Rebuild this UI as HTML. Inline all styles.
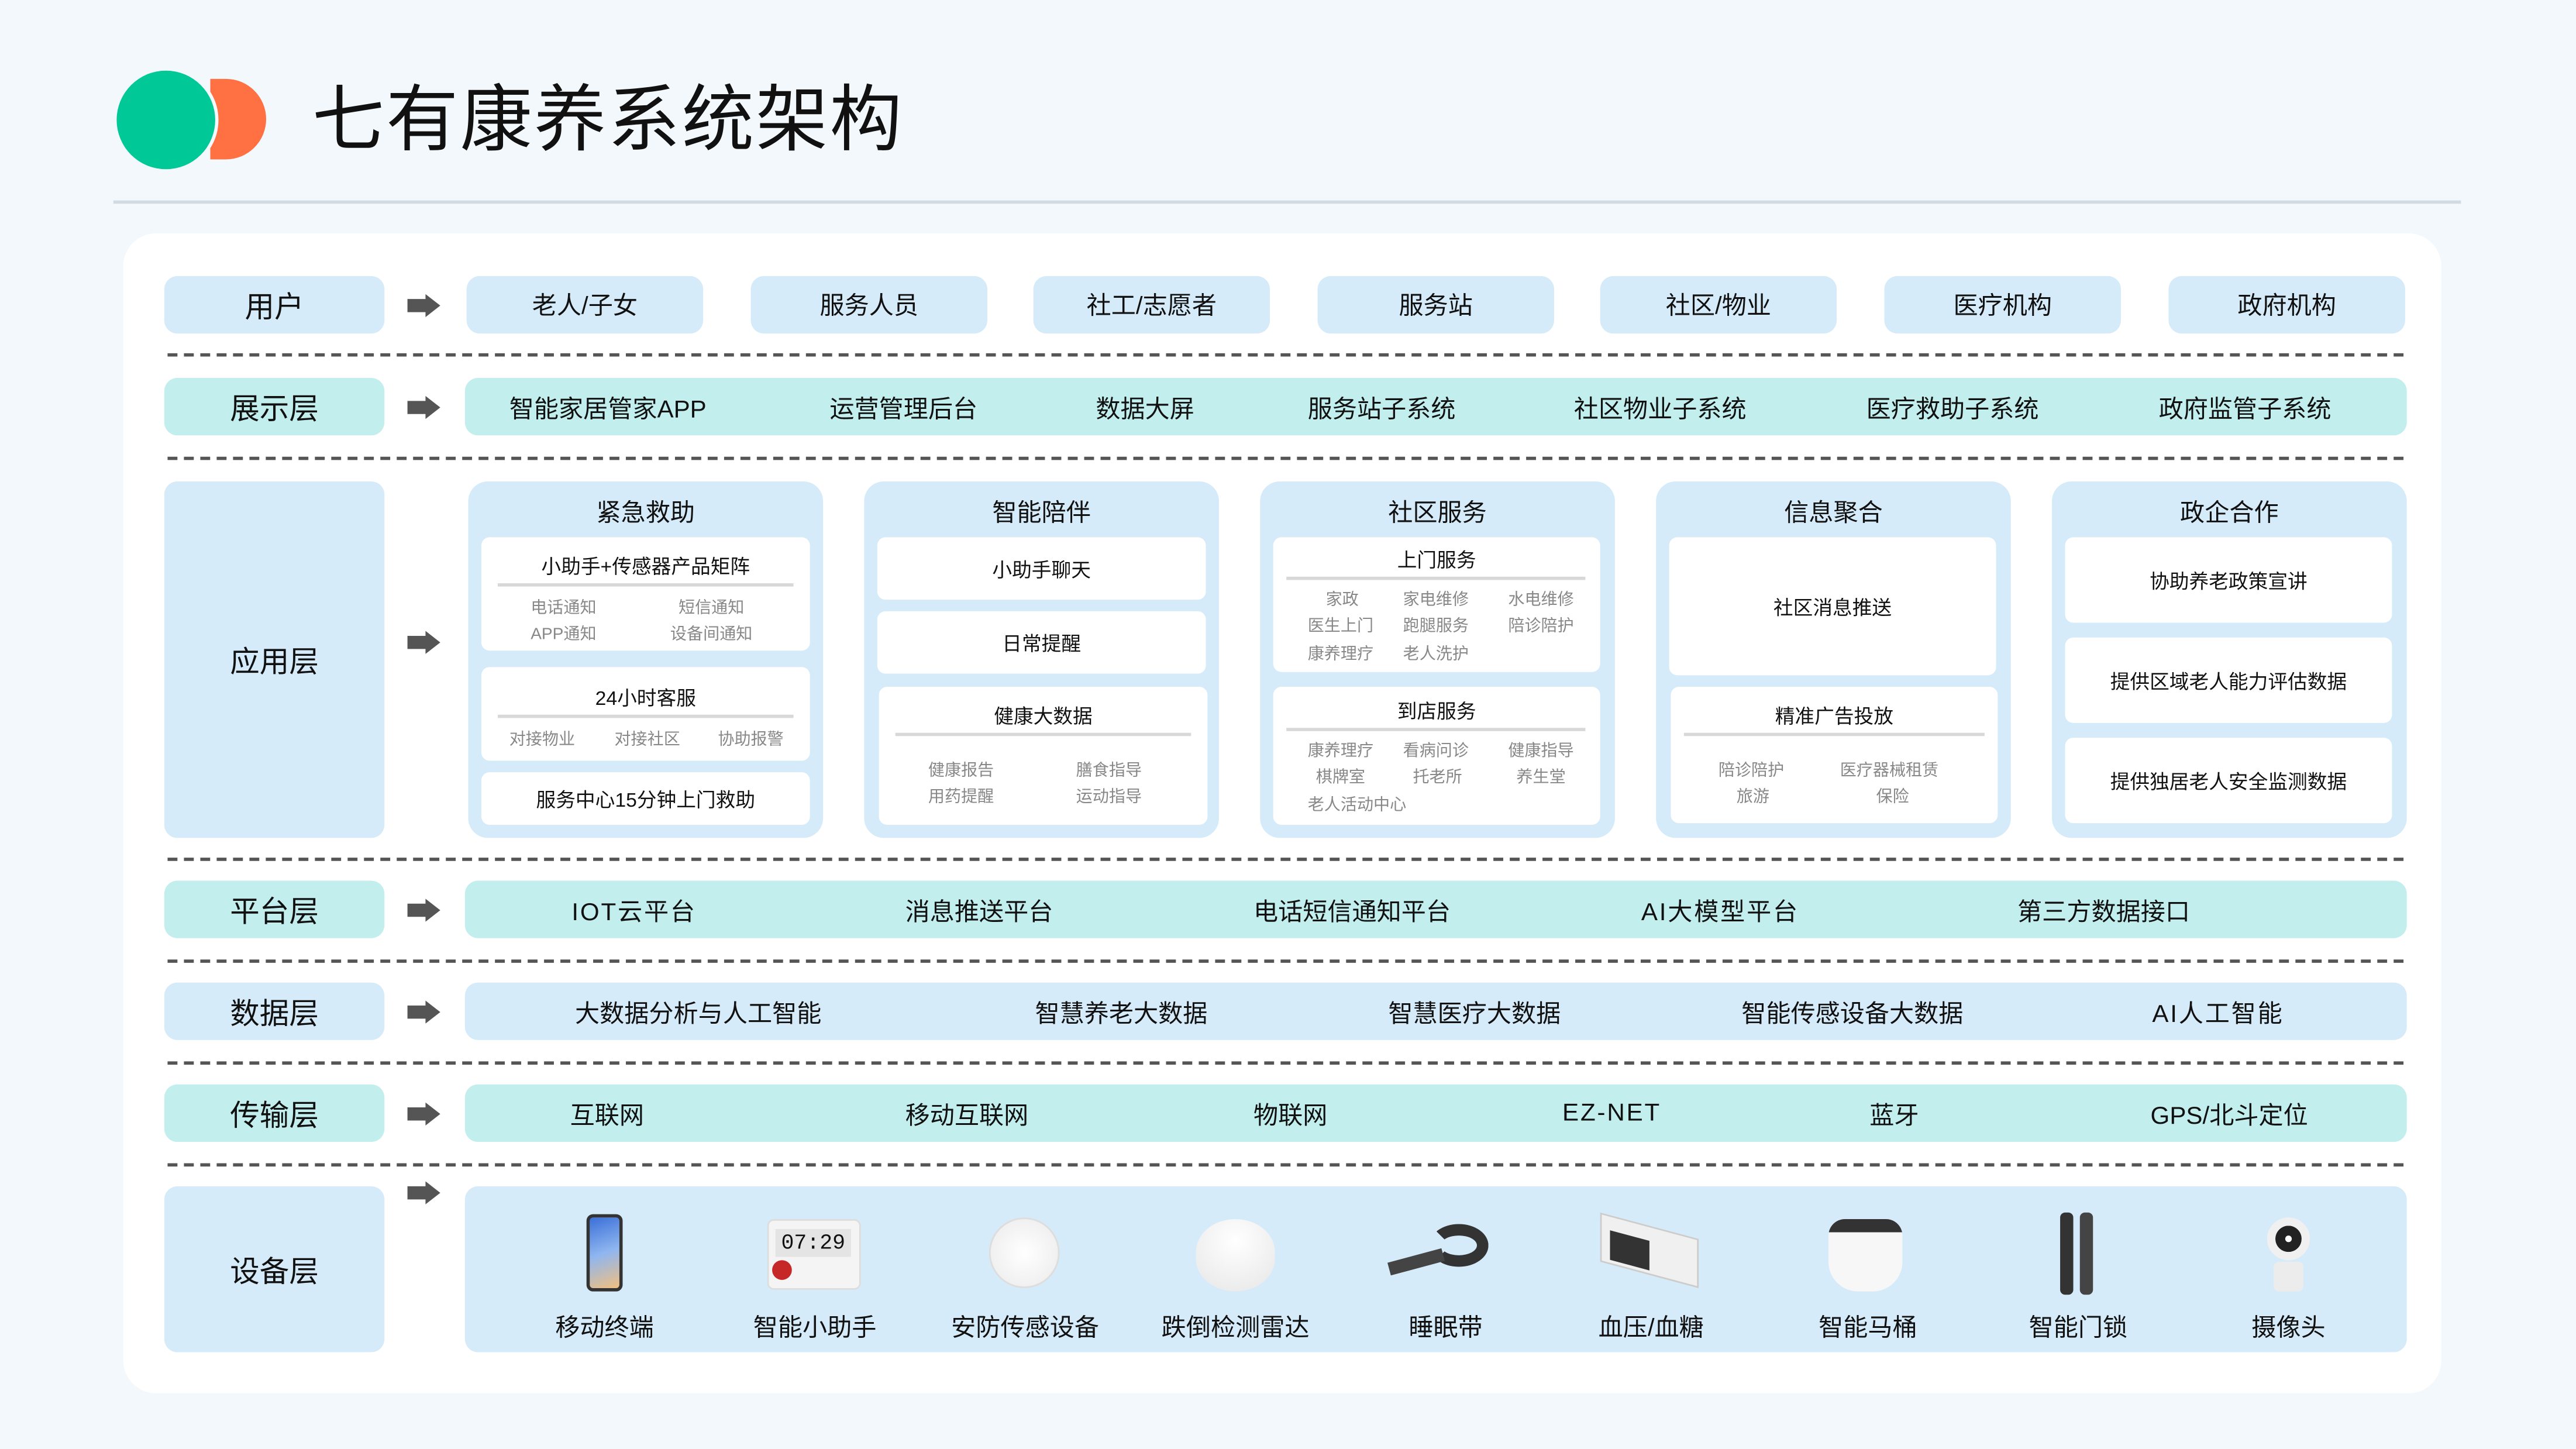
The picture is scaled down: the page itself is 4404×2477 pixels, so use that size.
<!DOCTYPE html>
<html><head><meta charset="utf-8"><style>
html,body{margin:0;padding:0;width:4404px;height:2477px;overflow:hidden;background:#f3f8fc}
#s{position:absolute;left:0;top:0;width:1568px;height:882px;transform:scale(2.80867);transform-origin:0 0;font-family:"Liberation Sans","Noto Sans CJK SC",sans-serif;color:#111}
.a{position:absolute;box-sizing:border-box}
.c{display:flex;align-items:center;justify-content:center;text-align:center}
.b{background:#d6ebf9;border-radius:8px}
.t{background:#c2eeee;border-radius:8px}
.w{background:#fff;border-radius:5px}
.lab{font-size:18px}
.it{font-size:15px}
.dash{position:absolute;left:102px;width:1361px;height:0;border-top:2px dashed #555}
.arr{position:absolute;width:20px;height:14px}
.g{color:#888;font-size:10px}
.hr{position:absolute;height:2px;background:#d8d8d8}
.dl{position:absolute;top:797px;width:120px;text-align:center;font-size:15px}
</style></head><body><div id="s">
<div class="a" style="left:128px;top:48px;width:34px;height:49px;border-radius:0 25px 25px 0;background:#ff7043"></div>
<div class="a" style="left:69px;top:41px;width:64px;height:64px;border-radius:50%;background:#f3f8fc"></div>
<div class="a" style="left:71px;top:43px;width:60px;height:60px;border-radius:50%;background:#00c896"></div>
<div class="a" style="left:190px;top:46px;font-size:44px;line-height:56px;letter-spacing:1px">七有康养系统架构</div>
<div class="a" style="left:69px;top:122px;width:1429px;height:2px;background:#d3dbe2"></div>
<div class="a" style="left:75px;top:142px;width:1411px;height:706px;background:#fff;border-radius:20px"></div>

<div class="a c b lab" style="left:100px;top:168px;width:134px;height:35px">用户</div>
<div class="a c t lab" style="left:100px;top:230px;width:134px;height:35px">展示层</div>
<div class="a c b lab" style="left:100px;top:293px;width:134px;height:217px">应用层</div>
<div class="a c t lab" style="left:100px;top:536px;width:134px;height:35px">平台层</div>
<div class="a c b lab" style="left:100px;top:598px;width:134px;height:35px">数据层</div>
<div class="a c t lab" style="left:100px;top:660px;width:134px;height:35px">传输层</div>
<div class="a c b lab" style="left:100px;top:722px;width:134px;height:101px">设备层</div>

<svg class="arr" style="left:248px;top:179px" viewBox="0 0 20 14"><path d="M0 3h11V0l9 7-9 7v-3H0z" fill="#555"/></svg>
<svg class="arr" style="left:248px;top:241px" viewBox="0 0 20 14"><path d="M0 3h11V0l9 7-9 7v-3H0z" fill="#555"/></svg>
<svg class="arr" style="left:248px;top:384px" viewBox="0 0 20 14"><path d="M0 3h11V0l9 7-9 7v-3H0z" fill="#555"/></svg>
<svg class="arr" style="left:248px;top:547px" viewBox="0 0 20 14"><path d="M0 3h11V0l9 7-9 7v-3H0z" fill="#555"/></svg>
<svg class="arr" style="left:248px;top:609px" viewBox="0 0 20 14"><path d="M0 3h11V0l9 7-9 7v-3H0z" fill="#555"/></svg>
<svg class="arr" style="left:248px;top:671px" viewBox="0 0 20 14"><path d="M0 3h11V0l9 7-9 7v-3H0z" fill="#555"/></svg>
<svg class="arr" style="left:248px;top:719px" viewBox="0 0 20 14"><path d="M0 3h11V0l9 7-9 7v-3H0z" fill="#555"/></svg>

<div class="dash" style="top:215px"></div>
<div class="dash" style="top:278px"></div>
<div class="dash" style="top:522px"></div>
<div class="dash" style="top:584px"></div>
<div class="dash" style="top:646px"></div>
<div class="dash" style="top:708px"></div>

<div class="a c b it" style="left:284px;top:168px;width:144px;height:35px">老人/子女</div>
<div class="a c b it" style="left:457px;top:168px;width:144px;height:35px">服务人员</div>
<div class="a c b it" style="left:629px;top:168px;width:144px;height:35px">社工/志愿者</div>
<div class="a c b it" style="left:802px;top:168px;width:144px;height:35px">服务站</div>
<div class="a c b it" style="left:974px;top:168px;width:144px;height:35px">社区/物业</div>
<div class="a c b it" style="left:1147px;top:168px;width:144px;height:35px">医疗机构</div>
<div class="a c b it" style="left:1320px;top:168px;width:144px;height:35px">政府机构</div>

<div class="a t" style="left:283px;top:230px;width:1182px;height:35px"></div>
<div class="a it" style="top:238px;left:310px">智能家居管家APP</div>
<div class="a it" style="top:238px;left:505px">运营管理后台</div>
<div class="a it" style="top:238px;left:667px">数据大屏</div>
<div class="a it" style="top:238px;left:796px">服务站子系统</div>
<div class="a it" style="top:238px;left:958px">社区物业子系统</div>
<div class="a it" style="top:238px;left:1136px">医疗救助子系统</div>
<div class="a it" style="top:238px;left:1314px">政府监管子系统</div>

<div class="a b" style="left:285px;top:293px;width:216px;height:217px;border-radius:12px"></div>
<div class="a b" style="left:526px;top:293px;width:216px;height:217px;border-radius:12px"></div>
<div class="a b" style="left:767px;top:293px;width:216px;height:217px;border-radius:12px"></div>
<div class="a b" style="left:1008px;top:293px;width:216px;height:217px;border-radius:12px"></div>
<div class="a b" style="left:1249px;top:293px;width:216px;height:217px;border-radius:12px"></div>
<div class="a it" style="left:285px;top:301px;width:216px;text-align:center">紧急救助</div>
<div class="a it" style="left:526px;top:301px;width:216px;text-align:center">智能陪伴</div>
<div class="a it" style="left:767px;top:301px;width:216px;text-align:center">社区服务</div>
<div class="a it" style="left:1008px;top:301px;width:216px;text-align:center">信息聚合</div>
<div class="a it" style="left:1249px;top:301px;width:216px;text-align:center">政企合作</div>

<div class="a w" style="left:293px;top:327px;width:200px;height:69px"></div>
<div class="a" style="left:293px;top:336px;width:200px;text-align:center;font-size:12px">小助手+传感器产品矩阵</div>
<div class="hr" style="left:303px;top:355px;width:180px"></div>
<div class="a g" style="left:323px;top:361px">电话通知</div><div class="a g" style="left:413px;top:361px">短信通知</div>
<div class="a g" style="left:323px;top:377px">APP通知</div><div class="a g" style="left:408px;top:377px">设备间通知</div>
<div class="a w" style="left:293px;top:406px;width:200px;height:57px"></div>
<div class="a" style="left:293px;top:416px;width:200px;text-align:center;font-size:12px">24小时客服</div>
<div class="hr" style="left:303px;top:435px;width:180px"></div>
<div class="a g" style="left:310px;top:441px">对接物业</div><div class="a g" style="left:374px;top:441px">对接社区</div><div class="a g" style="left:437px;top:441px">协助报警</div>
<div class="a w c" style="left:293px;top:470px;width:200px;height:32px;font-size:12px">服务中心15分钟上门救助</div>

<div class="a w c" style="left:534px;top:327px;width:200px;height:38px;font-size:12px">小助手聊天</div>
<div class="a w c" style="left:534px;top:372px;width:200px;height:38px;font-size:12px">日常提醒</div>
<div class="a w" style="left:535px;top:418px;width:200px;height:84px"></div>
<div class="a" style="left:535px;top:427px;width:200px;text-align:center;font-size:12px">健康大数据</div>
<div class="hr" style="left:545px;top:446px;width:180px"></div>
<div class="a g" style="left:565px;top:460px">健康报告</div><div class="a g" style="left:655px;top:460px">膳食指导</div>
<div class="a g" style="left:565px;top:476px">用药提醒</div><div class="a g" style="left:655px;top:476px">运动指导</div>

<div class="a w" style="left:775px;top:327px;width:199px;height:82px"></div>
<div class="a" style="left:775px;top:332px;width:199px;text-align:center;font-size:12px">上门服务</div>
<div class="hr" style="left:783px;top:351px;width:182px"></div>
<div class="a g" style="left:807px;top:356px">家政</div><div class="a g" style="left:854px;top:356px">家电维修</div><div class="a g" style="left:918px;top:356px">水电维修</div>
<div class="a g" style="left:796px;top:372px">医生上门</div><div class="a g" style="left:854px;top:372px">跑腿服务</div><div class="a g" style="left:918px;top:372px">陪诊陪护</div>
<div class="a g" style="left:796px;top:389px">康养理疗</div><div class="a g" style="left:854px;top:389px">老人洗护</div>
<div class="a w" style="left:775px;top:418px;width:199px;height:84px"></div>
<div class="a" style="left:775px;top:424px;width:199px;text-align:center;font-size:12px">到店服务</div>
<div class="hr" style="left:783px;top:443px;width:182px"></div>
<div class="a g" style="left:796px;top:448px">康养理疗</div><div class="a g" style="left:854px;top:448px">看病问诊</div><div class="a g" style="left:918px;top:448px">健康指导</div>
<div class="a g" style="left:801px;top:464px">棋牌室</div><div class="a g" style="left:860px;top:464px">托老所</div><div class="a g" style="left:923px;top:464px">养生堂</div>
<div class="a g" style="left:796px;top:481px">老人活动中心</div>

<div class="a w c" style="left:1016px;top:327px;width:199px;height:84px;font-size:12px">社区消息推送</div>
<div class="a w" style="left:1017px;top:418px;width:199px;height:83px"></div>
<div class="a" style="left:1017px;top:427px;width:199px;text-align:center;font-size:12px">精准广告投放</div>
<div class="hr" style="left:1025px;top:446px;width:183px"></div>
<div class="a g" style="left:1046px;top:460px">陪诊陪护</div><div class="a g" style="left:1120px;top:460px">医疗器械租赁</div>
<div class="a g" style="left:1057px;top:476px">旅游</div><div class="a g" style="left:1142px;top:476px">保险</div>

<div class="a w c" style="left:1257px;top:327px;width:199px;height:52px;font-size:12px">协助养老政策宣讲</div>
<div class="a w c" style="left:1257px;top:388px;width:199px;height:52px;font-size:12px">提供区域老人能力评估数据</div>
<div class="a w c" style="left:1257px;top:449px;width:199px;height:52px;font-size:12px">提供独居老人安全监测数据</div>

<div class="a t" style="left:283px;top:536px;width:1182px;height:35px"></div>
<div class="a it" style="top:544px;left:348px;letter-spacing:1px">IOT云平台</div>
<div class="a it" style="top:544px;left:551px">消息推送平台</div>
<div class="a it" style="top:544px;left:763px">电话短信通知平台</div>
<div class="a it" style="top:544px;left:999px;letter-spacing:1px">AI大模型平台</div>
<div class="a it" style="top:544px;left:1228px">第三方数据接口</div>

<div class="a b" style="left:283px;top:598px;width:1182px;height:35px"></div>
<div class="a it" style="top:606px;left:350px">大数据分析与人工智能</div>
<div class="a it" style="top:606px;left:630px">智慧养老大数据</div>
<div class="a it" style="top:606px;left:845px">智慧医疗大数据</div>
<div class="a it" style="top:606px;left:1060px">智能传感设备大数据</div>
<div class="a it" style="top:606px;left:1310px;letter-spacing:1px">AI人工智能</div>

<div class="a t" style="left:283px;top:660px;width:1182px;height:35px"></div>
<div class="a it" style="top:668px;left:347px">互联网</div>
<div class="a it" style="top:668px;left:551px">移动互联网</div>
<div class="a it" style="top:668px;left:763px">物联网</div>
<div class="a it" style="top:669px;left:951px;letter-spacing:1px">EZ-NET</div>
<div class="a it" style="top:668px;left:1138px">蓝牙</div>
<div class="a it" style="top:668px;left:1309px">GPS/北斗定位</div>

<div class="a b" style="left:283px;top:722px;width:1182px;height:101px"></div>
<div class="a" style="left:357px;top:739px;width:22px;height:47px;border-radius:4px;background:linear-gradient(160deg,#3a6fd8,#8fb6f0 50%,#f0c080);border:2px solid #333"></div>
<div class="a" style="left:467px;top:742px;width:57px;height:43px;border-radius:4px;background:#f4f4f4;border:1px solid #ddd"></div>
<div class="a" style="left:472px;top:748px;width:46px;height:17px;background:#e4e4e4;font-size:13px;line-height:17px;text-align:center;font-family:'Liberation Mono',monospace">07:29</div>
<div class="a" style="left:470px;top:767px;width:12px;height:12px;border-radius:50%;background:#c62828"></div>
<div class="a" style="left:602px;top:741px;width:43px;height:43px;border-radius:50%;background:radial-gradient(#fff,#eaeaea);border:1px solid #ddd"></div>
<div class="a" style="left:728px;top:742px;width:48px;height:44px;border-radius:50%/45%;background:radial-gradient(circle at 50% 30%,#fff,#e6e6e6)"></div>
<div class="a" style="left:870px;top:745px;width:36px;height:26px;border:7px solid #333;border-radius:50%;border-left-color:transparent"></div>
<div class="a" style="left:845px;top:764px;width:34px;height:8px;background:#444;transform:rotate(-15deg)"></div>
<div class="a" style="left:974px;top:746px;width:60px;height:30px;background:#f0f0f0;border:1px solid #ccc;transform:skewY(15deg)"></div>
<div class="a" style="left:980px;top:752px;width:24px;height:18px;background:#333;transform:skewY(15deg)"></div>
<div class="a" style="left:1113px;top:742px;width:45px;height:44px;border-radius:10px 10px 18px 18px;background:linear-gradient(#333 0 18%,#f7f7f7 18%)"></div>
<div class="a" style="left:1254px;top:738px;width:8px;height:50px;border-radius:3px;background:#333"></div>
<div class="a" style="left:1266px;top:738px;width:8px;height:50px;border-radius:3px;background:#444"></div>
<div class="a" style="left:1380px;top:741px;width:26px;height:26px;border-radius:50%;background:#fff;border:5px solid #f0f0f0;box-shadow:inset 0 0 0 6px #222"></div>
<div class="a" style="left:1384px;top:768px;width:18px;height:18px;border-radius:3px;background:#ececec"></div>
<div class="dl" style="left:308px">移动终端</div>
<div class="dl" style="left:436px">智能小助手</div>
<div class="dl" style="left:564px">安防传感设备</div>
<div class="dl" style="left:692px">跌倒检测雷达</div>
<div class="dl" style="left:820px">睡眠带</div>
<div class="dl" style="left:945px">血压/血糖</div>
<div class="dl" style="left:1077px">智能马桶</div>
<div class="dl" style="left:1205px">智能门锁</div>
<div class="dl" style="left:1333px">摄像头</div>
</div></body></html>
